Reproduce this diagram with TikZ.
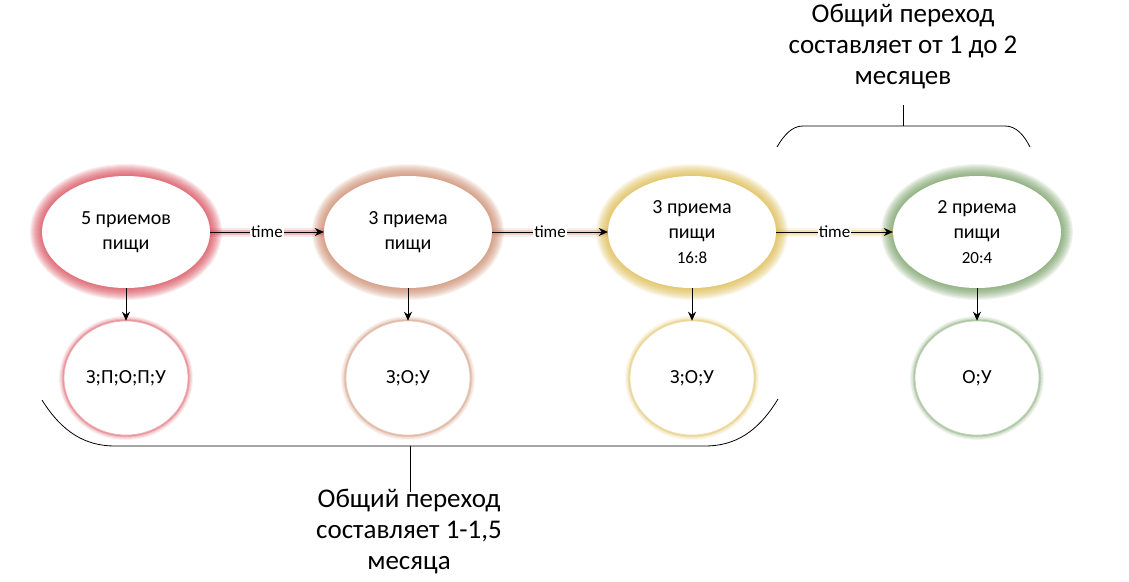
\documentclass[tikz,border=0pt]{standalone}
\usepackage{fontspec}
\setmainfont{Carlito}
\usetikzlibrary{arrows.meta,shapes.geometric}

\definecolor{glowred}{RGB}{210,50,65}
\definecolor{glowtan}{RGB}{195,120,85}
\definecolor{glowyel}{RGB}{215,175,50}
\definecolor{glowgrn}{RGB}{100,145,80}

\tikzset{
  halo/.style={
    preaction={draw=#1, line width=24pt, opacity=0.09},
    preaction={draw=#1, line width=22pt, opacity=0.09},
    preaction={draw=#1, line width=20pt, opacity=0.09},
    preaction={draw=#1, line width=18pt, opacity=0.09},
    preaction={draw=#1, line width=16pt, opacity=0.09},
    preaction={draw=#1, line width=14pt, opacity=0.09},
    preaction={draw=#1, line width=12pt, opacity=0.09},
    preaction={draw=#1, line width=10pt, opacity=0.09},
    preaction={draw=#1, line width=8pt, opacity=0.09},
    preaction={draw=#1, line width=6pt, opacity=0.09},
    preaction={draw=#1, line width=4pt, opacity=0.09},
    preaction={draw=#1, line width=2pt, opacity=0.09}},
  meal/.style={ellipse, fill=white, minimum width=168pt, minimum height=112pt,
    inner sep=0pt, align=center, font=\fontsize{20}{25}\selectfont, halo=#1},
  spot/.style={ellipse, fill=white, minimum width=124pt, minimum height=114pt,
    inner sep=0pt, font=\fontsize{20}{22}\selectfont,
    preaction={draw=#1, line width=10pt, opacity=0.08},
    preaction={draw=#1, line width=8pt, opacity=0.12},
    preaction={draw=#1, line width=5pt, opacity=0.20},
    preaction={draw=#1, line width=3pt, opacity=0.25},
    draw=#1!40, line width=0.6pt},
  flow/.style={-{Stealth[length=9pt,width=8pt]}, line width=0.8pt,
    preaction={draw=#1, -, line width=9pt, opacity=0.12},
    preaction={draw=#1, -, line width=5pt, opacity=0.25}},
  down/.style={-{Stealth[length=9pt,width=8pt]}, line width=0.8pt},
  brace/.style={line width=0.8pt},
  timelbl/.style={fill=white, inner sep=1pt, font=\fontsize{17}{19}\selectfont},
  note/.style={align=center, inner sep=0pt, font=\fontsize{27}{31}\selectfont}
}

\begin{document}
\begin{tikzpicture}[x=1pt,y=-1pt]

\useasboundingbox (0,0) rectangle (1129,581);

% meals per day
\node[meal=glowred] (m5) at (126,232) {5 приемов\\пищи};
\node[meal=glowtan] (m3a) at (408,232) {3 приема\\пищи};
\node[meal=glowyel] (m3b) at (692,232) {3 приема\\пищи\\{\fontsize{17}{19}\selectfont 16:8}};
\node[meal=glowgrn] (m2) at (977,232) {2 приема\\пищи\\{\fontsize{17}{19}\selectfont 20:4}};

% meal order
\node[spot=glowred] (c5) at (126,378) {З;П;О;П;У};
\node[spot=glowtan] (c3a) at (408,378) {З;О;У};
\node[spot=glowyel] (c3b) at (692,378) {З;О;У};
\node[spot=glowgrn] (c2) at (977,378) {О;У};

\draw[flow=glowred] (m5) -- node[timelbl] (t1) {time} (m3a);
\draw[flow=glowtan] (m3a) -- node[timelbl] (t2) {time} (m3b);
\draw[flow=glowyel] (m3b) -- node[timelbl] (t3) {time} (m2);

\draw[down] (m5) -- (c5);
\draw[down] (m3a) -- (c3a);
\draw[down] (m3b) -- (c3b);
\draw[down] (m2) -- (c2);

% lower brace
\draw[brace] (42,400) .. controls (62,432) and (85,446) .. (115,446) -- (705,446)
  .. controls (735,446) and (758,432) .. (778,399);
\node[note] (lowtxt) at (409,532) {Общий переход\\составляет 1-1,5\\месяца};
\coordinate (lowmid) at (410,446);
\coordinate (lowend) at (410,492);
\draw[brace] (lowmid) -- (lowend);

% upper brace
\draw[brace] (777,147) .. controls (784,135) and (792,126) .. (803,126) -- (1005,126)
  .. controls (1016,126) and (1024,135) .. (1030,147);
\node[note] (toptxt) at (903,47) {Общий переход\\составляет от 1 до 2\\месяцев};
\coordinate (topmid) at (903,126);
\coordinate (topend) at (903,105);
\draw[brace] (topmid) -- (topend);

\end{tikzpicture}
\end{document}
